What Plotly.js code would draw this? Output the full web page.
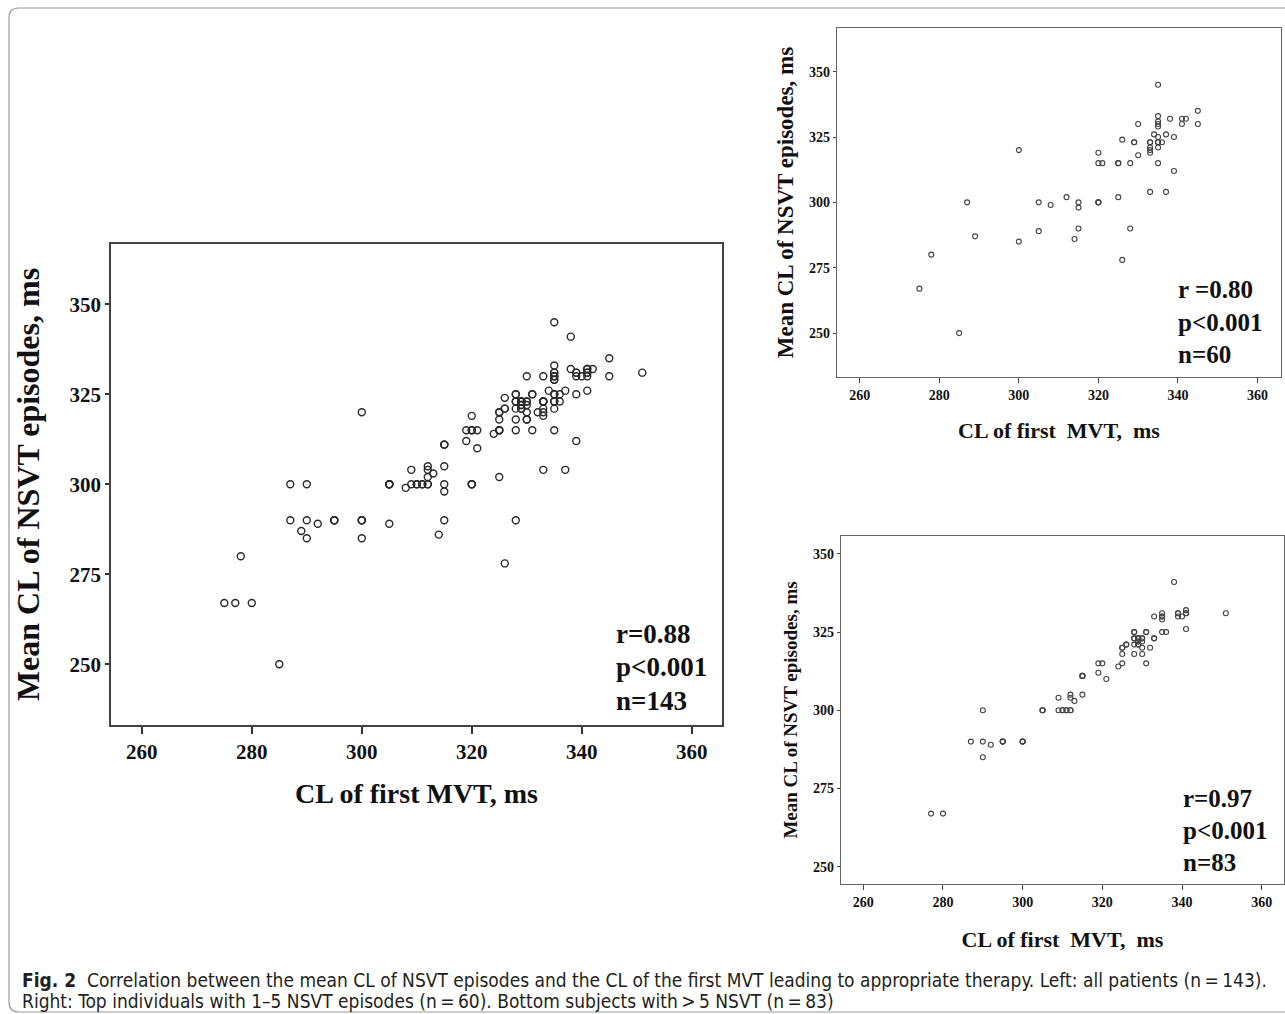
<!DOCTYPE html>
<html>
<head>
<meta charset="utf-8">
<script src="https://cdn.plot.ly/plotly-3.0.1.min.js"></script>
<style>
  html, body { margin: 0; padding: 0; background: #ffffff; }
  #chart { width: 1285px; height: 1014px; }
</style>
</head>
<body>
<div id="chart"></div>
<script>
// ---- Data ----
// Top right panel: individuals with 1-5 NSVT episodes (n = 60)
const fewEpisodesMVT = [275,278,285,287,289,300,300,305,305,308,312,315,315,315,314,320,320,320,320,321,320,325,325,325,326,326,328,328,329,329,330,330,333,337,339,335,335,335,335,335,335,334,335,336,333,333,335,335,333,333,333,335,337,338,339,341,341,342,345,345];
const fewEpisodesNSVT = [267,280,250,300,287,320,285,300,289,299,302,300,298,290,286,300,300,300,315,315,319,315,315,302,324,278,315,290,323,323,330,318,304,304,312,315,345,333,331,330,329,326,325,323,323,323,323,323,321,320,319,321,326,332,325,330,332,332,335,330];

// Bottom right panel: subjects with > 5 NSVT episodes (n = 83)
const manyEpisodesMVT = [277,280,287,290,290,290,292,295,295,300,300,305,305,309,309,310,311,312,312,312,313,315,315,315,319,319,320,321,324,325,325,325,326,328,328,328,328,329,329,329,330,330,330,331,331,332,333,333,335,335,335,335,336,338,339,339,340,341,341,341,351,
  328,329,329,329,329,330,330,331,333,325,326,328,335,341,339,310,311,312,300,295,305,315];
const manyEpisodesNSVT = [267,267,290,300,290,285,289,290,290,290,290,300,300,304,300,300,300,300,305,304,303,305,311,311,312,315,315,310,314,315,318,320,321,325,323,321,318,323,321,322,323,320,318,325,315,320,330,323,331,330,329,325,325,341,331,330,330,332,331,326,331,
  323,323,323,321,322,322,323,325,323,320,321,325,330,331,331,300,300,300,290,290,300,311];

// Left panel: all patients (n = 143) = union of both groups
const allMVT = fewEpisodesMVT.concat(manyEpisodesMVT);
const allNSVT = fewEpisodesNSVT.concat(manyEpisodesNSVT);

const xTicks = [260, 280, 300, 320, 340, 360];
const yTicks = [250, 275, 300, 325, 350];
const statsAll = ['r=0.88', 'p<0.001', 'n=143'];
const statsFew = ['r =0.80', 'p<0.001', 'n=60'];
const statsMany = ['r=0.97', 'p<0.001', 'n=83'];
const yTitle = 'Mean CL of NSVT episodes, ms';
const xTitleMain = 'CL of first MVT, ms';
const xTitleSmall = 'CL of first\u00a0 MVT,\u00a0 ms';
const captionLine1 = '<b>Fig. 2</b>\u00a0 Correlation between the mean CL of NSVT episodes and the CL of the first MVT leading to appropriate therapy. Left: all patients (n\u2009=\u2009143).';
const captionLine2 = 'Right: Top individuals with 1\u20135 NSVT episodes (n\u2009=\u200960). Bottom subjects with\u2009>\u20095 NSVT (n\u2009=\u200983)';

// ---- Layout helpers ----
const W = 1285, H = 1014;
const px = v => v / W;
const py = v => 1 - v / H;
const SERIF = '"Liberation Serif", "Times New Roman", serif';

function axis(o) {
  return Object.assign({
    showgrid: false, zeroline: false, showline: true, mirror: true,
    ticks: 'outside', automargin: false
  }, o);
}

const traces = [
  { x: allMVT, y: allNSVT, xaxis: 'x', yaxis: 'y', type: 'scatter', mode: 'markers',
    marker: { symbol: 'circle-open', size: 7, color: '#2a2a2a', line: { width: 1.4, color: '#2a2a2a' } },
    hoverinfo: 'x+y', name: 'All patients' },
  { x: fewEpisodesMVT, y: fewEpisodesNSVT, xaxis: 'x2', yaxis: 'y2', type: 'scatter', mode: 'markers',
    marker: { symbol: 'circle-open', size: 5, color: '#444', line: { width: 1.1, color: '#444' } },
    hoverinfo: 'x+y', name: '1-5 NSVT' },
  { x: manyEpisodesMVT, y: manyEpisodesNSVT, xaxis: 'x3', yaxis: 'y3', type: 'scatter', mode: 'markers',
    marker: { symbol: 'circle-open', size: 5, color: '#444', line: { width: 1.1, color: '#444' } },
    hoverinfo: 'x+y', name: '>5 NSVT' }
];

const bigTick = { family: SERIF, size: 21, weight: 700, color: '#111' };
const smallTick = { family: SERIF, size: 14, weight: 700, color: '#111' };
const col = '#111';

const layout = {
  width: W, height: H,
  margin: { l: 0, r: 0, t: 0, b: 0 },
  paper_bgcolor: '#ffffff', plot_bgcolor: '#ffffff',
  showlegend: false,
  xaxis: axis({ domain: [px(111), px(722)], anchor: 'y', range: [254.4, 365.5], tickvals: xTicks,
    ticklen: 7, tickwidth: 1.5, tickcolor: '#333', linecolor: '#444', linewidth: 1.6,
    tickfont: bigTick, title: { text: xTitleMain, font: { family: SERIF, size: 28, weight: 700, color: col }, standoff: 20 } }),
  yaxis: axis({ domain: [py(725), py(244)], anchor: 'x', range: [233.1, 366.75], tickvals: yTicks,
    ticklen: 4, tickwidth: 1.5, tickcolor: '#333', linecolor: '#444', linewidth: 1.6,
    tickfont: bigTick, title: { text: yTitle, font: { family: SERIF, size: 32, weight: 700, color: col }, standoff: 20 } }),
  xaxis2: axis({ domain: [px(837), px(1281)], anchor: 'y2', range: [254.3, 365.9], tickvals: xTicks,
    ticklen: 5, tickwidth: 1.2, tickcolor: '#444', linecolor: '#666', linewidth: 1.3,
    tickfont: smallTick, title: { text: xTitleSmall, font: { family: SERIF, size: 22, weight: 700, color: col }, standoff: 20 } }),
  yaxis2: axis({ domain: [py(377), py(28)], anchor: 'x2', range: [233.2, 366.7], tickvals: yTicks,
    ticklen: 3, tickwidth: 1.2, tickcolor: '#444', linecolor: '#666', linewidth: 1.3,
    tickfont: smallTick, title: { text: yTitle, font: { family: SERIF, size: 23, weight: 700, color: col }, standoff: 8 } }),
  xaxis3: axis({ domain: [px(841), px(1284)], anchor: 'y3', range: [254.4, 365.6], tickvals: xTicks,
    ticklen: 5, tickwidth: 1.2, tickcolor: '#444', linecolor: '#666', linewidth: 1.3,
    tickfont: smallTick, title: { text: xTitleSmall, font: { family: SERIF, size: 22, weight: 700, color: col }, standoff: 22 } }),
  yaxis3: axis({ domain: [py(884), py(536)], anchor: 'x3', range: [244.5, 355.7], tickvals: yTicks,
    ticklen: 3, tickwidth: 1.2, tickcolor: '#444', linecolor: '#666', linewidth: 1.3,
    tickfont: smallTick, title: { text: yTitle, font: { family: SERIF, size: 19, weight: 700, color: col }, standoff: 10 } }),
  shapes: [
    { type: 'path', xref: 'paper', yref: 'paper', layer: 'below',
      path: 'M ' + px(9) + ',' + py(1002) + ' L ' + px(9) + ',' + py(18) + ' Q ' + px(9) + ',' + py(8) + ' ' + px(19) + ',' + py(8) +
            ' L ' + px(1290) + ',' + py(8),
      line: { color: '#9a9a9a', width: 1.2 } },
    { type: 'path', xref: 'paper', yref: 'paper', layer: 'below',
      path: 'M ' + px(9) + ',' + py(1002) + ' Q ' + px(9) + ',' + py(1012) + ' ' + px(19) + ',' + py(1012) + ' L ' + px(1290) + ',' + py(1012),
      line: { color: '#9a9a9a', width: 1.2 } }
  ],
  annotations: []
};

function addStats(lines, xLeft, yCenters, size) {
  lines.forEach((t, i) => {
    layout.annotations.push({ xref: 'paper', yref: 'paper', x: px(xLeft), y: py(yCenters[i]),
      xanchor: 'left', yanchor: 'middle', showarrow: false, text: '<b>' + t + '</b>',
      font: { family: SERIF, size: size, color: '#111' } });
  });
}
addStats(statsAll, 614, [634, 667, 701], 27);
addStats(statsFew, 1176, [289, 322, 354], 25);
addStats(statsMany, 1181, [798, 830, 862], 25);

[captionLine1, captionLine2].forEach((t, i) => {
  layout.annotations.push({ xref: 'paper', yref: 'paper', x: px(20), y: py([980, 1001][i]),
    xanchor: 'left', yanchor: 'middle', showarrow: false, text: t,
    font: { family: '"Liberation Sans Narrow", "DejaVu Sans Condensed", Roboto, sans-serif', size: 19, color: '#231f20' } });
});

Plotly.newPlot('chart', traces, layout, { displayModeBar: false, staticPlot: false });
</script>
</body>
</html>
